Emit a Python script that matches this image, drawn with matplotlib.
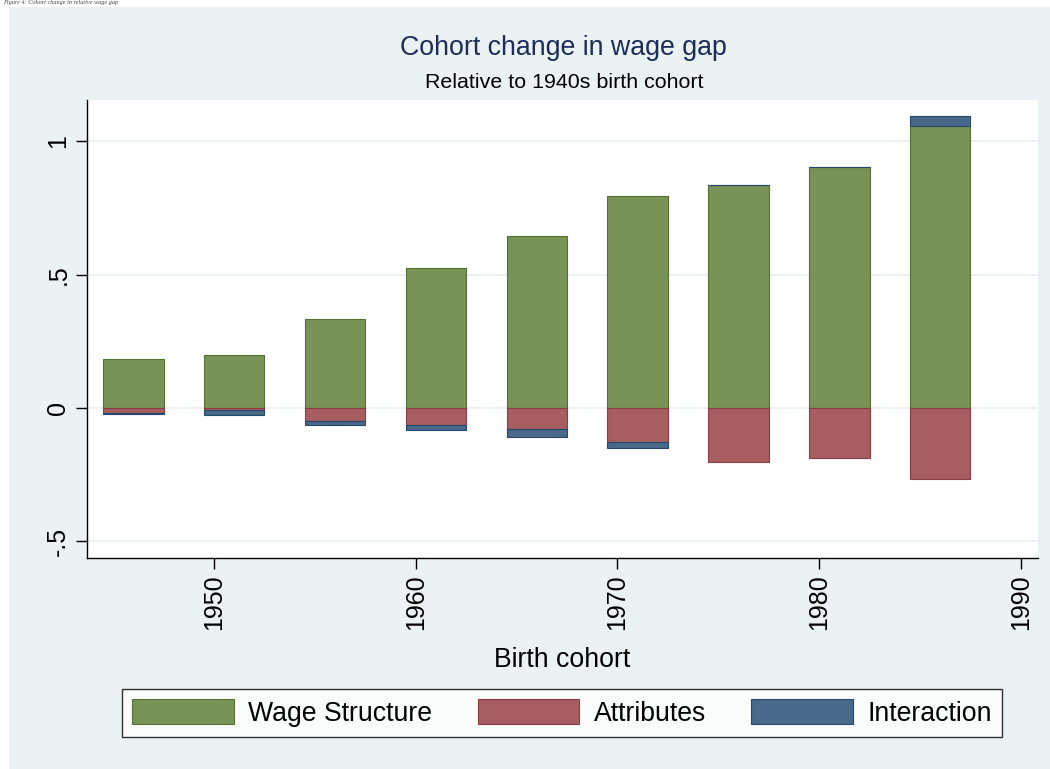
import matplotlib
matplotlib.use("Agg")
import matplotlib.pyplot as plt
import matplotlib.patches as patches
import numpy as np

plt.rcParams['font.family'] = ['Liberation Sans', 'DejaVu Sans']

# birth cohorts (bar centres) and decomposition, relative to 1940s cohort
cohort = [1946, 1951, 1956, 1961, 1966, 1971, 1976, 1981, 1986]
wage_structure = [0.184, 0.197, 0.333, 0.524, 0.644, 0.794, 0.835, 0.903, 1.056]
attributes = [-0.017, -0.009, -0.047, -0.062, -0.079, -0.126, -0.204, -0.187, -0.266]
interaction = [-0.004, -0.018, -0.018, -0.019, -0.031, -0.025, 0.0, 0.0, 0.038]

x_ticks = [1950, 1960, 1970, 1980, 1990]
y_ticks = [-0.5, 0, 0.5, 1]
y_ticklabels = ['-.5', '0', '.5', '1']

green = '#789355'
red = '#a65e61'
blue = '#49698b'
bg = '#eaf2f3'

fig = plt.figure(figsize=(10.5, 7.69), dpi=100)
fig.patch.set_facecolor('white')
# Stata graph region
fig.add_artist(patches.Rectangle((9 / 1050, 0), 1, 1 - 7 / 769, transform=fig.transFigure,
                                 facecolor=bg, edgecolor='none', zorder=-10))
# caption from the page above the graph (cropped in the source)
fig.text(0.003, 0.9995, 'Figure 4: Cohort change in relative wage gap', fontsize=4.5,
         family=['Liberation Serif', 'DejaVu Serif'], style='italic', color='#444444',
         va='top', ha='left')

ax = fig.add_axes([87 / 1050, 1 - 558 / 769, (1038 - 87) / 1050, (558 - 100) / 769])
ax.set_facecolor('white')

ws = np.array(wage_structure)
at = np.array(attributes)
it = np.array(interaction)
it_bottom = np.where(it < 0, at, ws)

w = 3
ax.bar(cohort, ws, width=w, color=green, edgecolor='#566f37', linewidth=0.8, zorder=3,
       label='Wage Structure')
ax.bar(cohort, at, width=w, color=red, edgecolor='#8c3c44', linewidth=0.8, zorder=3,
       label='Attributes')
ax.bar(cohort, it, bottom=it_bottom, width=w, color=blue, edgecolor='#25476b', linewidth=0.8,
       zorder=3, label='Interaction')

ax.set_xlim(1943.7, 1990.85)
ax.set_ylim(-0.562, 1.154)
ax.set_xticks(x_ticks)
ax.set_xticklabels([str(t) for t in x_ticks], rotation=90, fontsize=18)
ax.set_yticks(y_ticks)
ax.set_yticklabels(y_ticklabels, rotation=90, fontsize=18, va='center')
ax.tick_params(axis='both', direction='out', length=8, width=1, color='black', pad=4)
ax.grid(axis='y', color=bg, linewidth=1.5, zorder=0)
ax.set_axisbelow(True)
for s in ['top', 'right']:
    ax.spines[s].set_visible(False)
for s in ['left', 'bottom']:
    ax.spines[s].set_linewidth(1)
    ax.spines[s].set_color('black')

ax.set_xlabel('Birth cohort', fontsize=19.2, labelpad=12)

fig.text(0.537, 1 - 48 / 769, 'Cohort change in wage gap', fontsize=19.3, color='#1c2d5a',
         ha='center', va='center')
fig.text(0.537, 1 - 82 / 769, 'Relative to 1940s birth cohort', fontsize=15.4, color='black',
         ha='center', va='center')

leg = fig.legend(loc='center', bbox_to_anchor=(562 / 1050, 1 - 713 / 769), ncol=3,
                 fontsize=19.2, frameon=True, fancybox=False, edgecolor='black',
                 handlelength=3.8, handleheight=1.05, handletextpad=0.55, columnspacing=1.7,
                 borderpad=0.4, borderaxespad=0)
leg.get_frame().set_linewidth(1)
leg.get_frame().set_facecolor('white')

fig.savefig('out.png', dpi=100, facecolor=fig.get_facecolor())
